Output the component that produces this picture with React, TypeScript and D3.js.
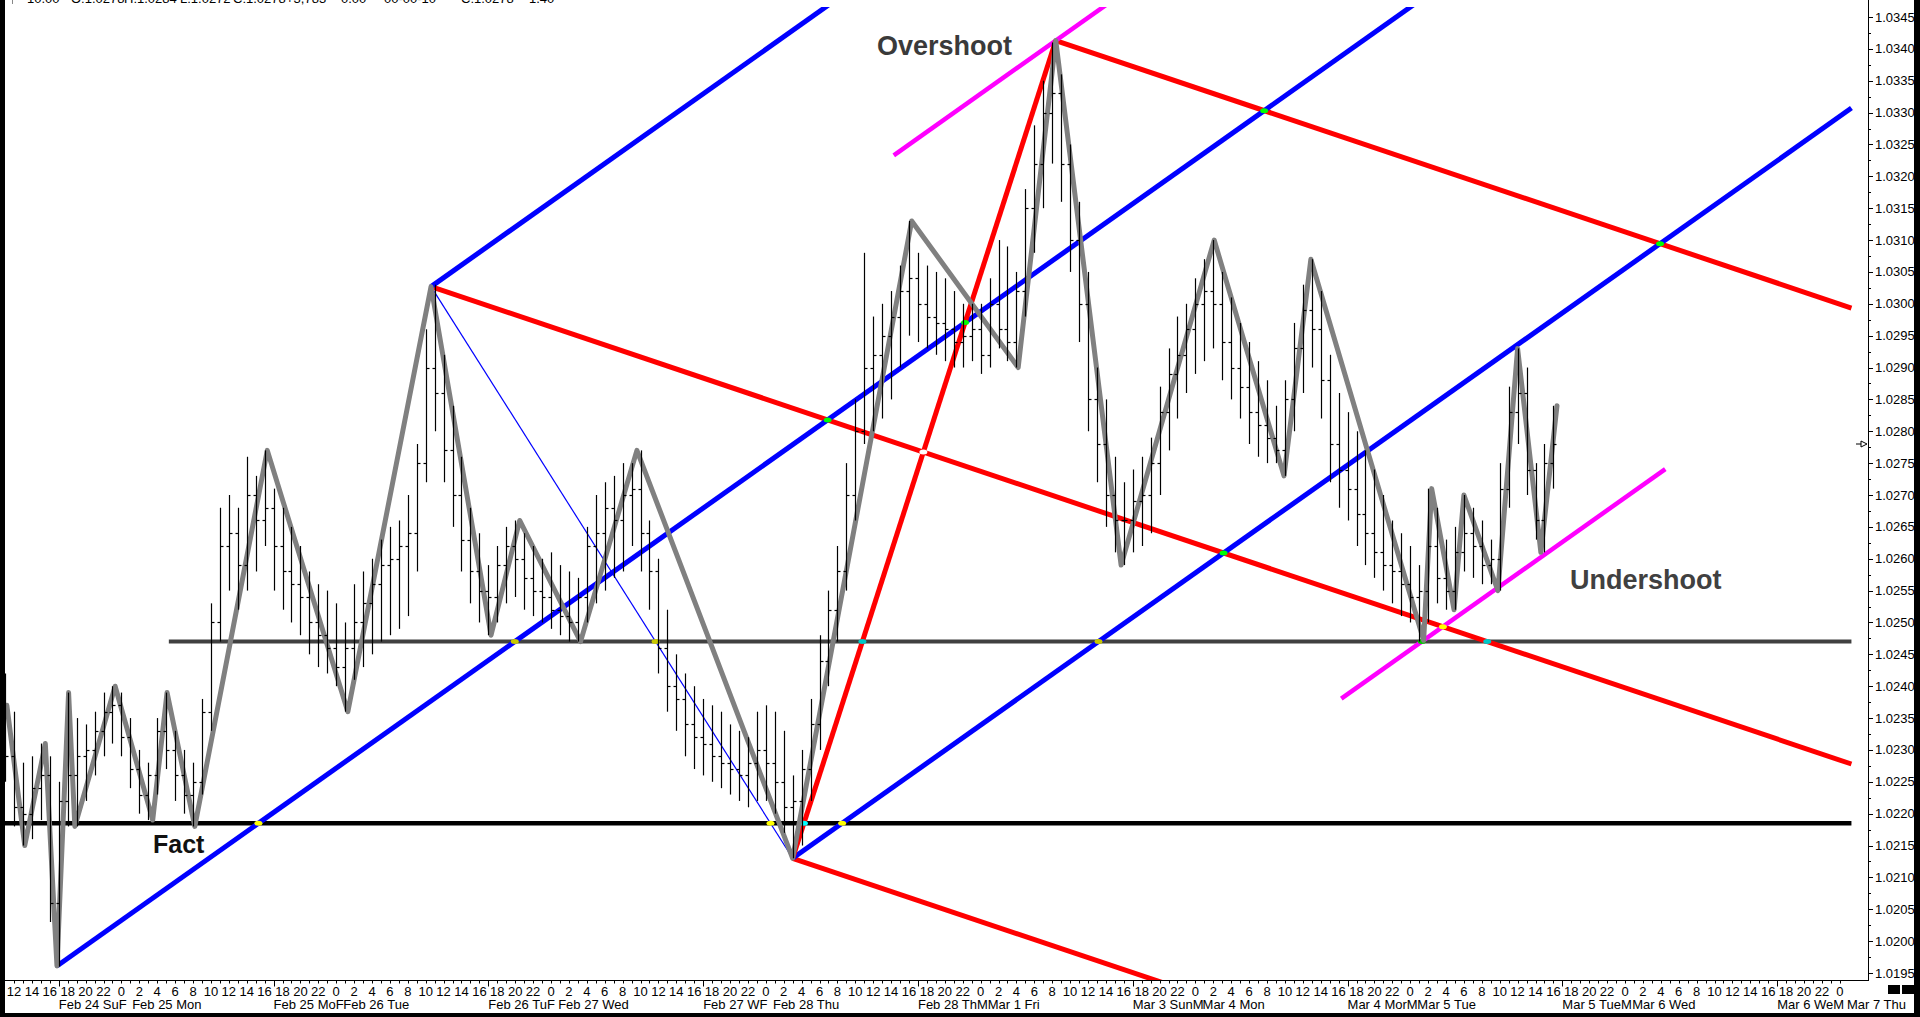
import * as d3 from 'd3'

// hour index: 0 = Feb 22 12:00, weekend hours removed (Fri 17:00 -> Sun 17:00)
const barHigh = [
  1.0242, 1.0236, 1.0228, 1.0229, 1.0231, 1.0229, 1.0225, 1.0239, 1.0235, 1.0234,
  1.0236, 1.0239, 1.0240, 1.0239, 1.0235, 1.0230, 1.0228, 1.0235, 1.0239, 1.0233,
  1.0230, 1.0228, 1.0238, 1.0253, 1.0268, 1.0270, 1.0268, 1.0276, 1.0273, 1.0277,
  1.0271, 1.0268, 1.0265, 1.0262, 1.0258, 1.0256, 1.0255, 1.0253, 1.0250, 1.0256,
  1.0258, 1.0260, 1.0263, 1.0265, 1.0266, 1.0270, 1.0278, 1.0296, 1.0303, 1.0292,
  1.0284, 1.0276, 1.0268, 1.0264, 1.0259, 1.0262, 1.0265, 1.0266, 1.0264, 1.0262,
  1.0260, 1.0261, 1.0259, 1.0258, 1.0257, 1.0265, 1.0270, 1.0272, 1.0273, 1.0275,
  1.0275, 1.0277, 1.0266, 1.0260, 1.0252, 1.0245, 1.0242, 1.0240, 1.0238, 1.0237,
  1.0236, 1.0234, 1.0233, 1.0232, 1.0236, 1.0237, 1.0236, 1.0233, 1.0226, 1.0230,
  1.0238, 1.0248, 1.0255, 1.0262, 1.0275, 1.0285, 1.0308, 1.0298, 1.0300, 1.0302,
  1.0306, 1.0313, 1.0308, 1.0306, 1.0305, 1.0304, 1.0302, 1.0300, 1.0300, 1.0300,
  1.0304, 1.0310, 1.0309, 1.0305, 1.0318, 1.0328, 1.0335, 1.0341, 1.0336, 1.0325,
  1.0316, 1.0305, 1.0290, 1.0285, 1.0276, 1.0272, 1.0274, 1.0276, 1.0279, 1.0287,
  1.0293, 1.0298, 1.0300, 1.0304, 1.0307, 1.0310, 1.0305, 1.0301, 1.0297, 1.0294,
  1.0291, 1.0288, 1.0284, 1.0288, 1.0297, 1.0303, 1.0307, 1.0302, 1.0292, 1.0286,
  1.0283, 1.0280, 1.0277, 1.0274, 1.0270, 1.0266, 1.0264, 1.0262, 1.0259, 1.0271,
  1.0268, 1.0263, 1.0265, 1.0270, 1.0268, 1.0266, 1.0263, 1.0275, 1.0287, 1.0293,
  1.0290, 1.0275, 1.0278, 1.0284,
]
const barLow = [
  1.0225, 1.0218, 1.0215, 1.0216, 1.0219, 1.0203, 1.0196, 1.0218, 1.0218, 1.0222,
  1.0226, 1.0229, 1.0231, 1.0229, 1.0224, 1.0220, 1.0219, 1.0223, 1.0227, 1.0222,
  1.0220, 1.0218, 1.0223, 1.0233, 1.0247, 1.0255, 1.0252, 1.0255, 1.0258, 1.0262,
  1.0255, 1.0252, 1.0250, 1.0248, 1.0245, 1.0243, 1.0242, 1.0240, 1.0236, 1.0241,
  1.0243, 1.0245, 1.0247, 1.0248, 1.0249, 1.0251, 1.0258, 1.0272, 1.0280, 1.0272,
  1.0265, 1.0258, 1.0253, 1.0250, 1.0248, 1.0250, 1.0253, 1.0254, 1.0252, 1.0251,
  1.0250, 1.0249, 1.0248, 1.0247, 1.0247, 1.0250, 1.0253, 1.0255, 1.0257, 1.0258,
  1.0262, 1.0258, 1.0252, 1.0242, 1.0236, 1.0233, 1.0229, 1.0227, 1.0226, 1.0225,
  1.0224, 1.0223, 1.0222, 1.0221, 1.0222, 1.0222, 1.0220, 1.0217, 1.0213, 1.0215,
  1.0222, 1.0230, 1.0240, 1.0247, 1.0255, 1.0266, 1.0278, 1.0280, 1.0282, 1.0285,
  1.0290, 1.0295, 1.0294, 1.0293, 1.0292, 1.0291, 1.0290, 1.0290, 1.0291, 1.0289,
  1.0290, 1.0293, 1.0291, 1.0290, 1.0298, 1.0308, 1.0315, 1.0322, 1.0316, 1.0305,
  1.0294, 1.0280, 1.0272, 1.0265, 1.0261, 1.0259, 1.0261, 1.0262, 1.0264, 1.0270,
  1.0277, 1.0282, 1.0286, 1.0289, 1.0291, 1.0293, 1.0288, 1.0285, 1.0282, 1.0278,
  1.0276, 1.0275, 1.0275, 1.0273, 1.0280, 1.0286, 1.0290, 1.0282, 1.0272, 1.0268,
  1.0266, 1.0262, 1.0259, 1.0257, 1.0255, 1.0253, 1.0251, 1.0250, 1.0247, 1.0250,
  1.0253, 1.0252, 1.0252, 1.0258, 1.0257, 1.0256, 1.0256, 1.0255, 1.0268, 1.0278,
  1.0270, 1.0263, 1.0261, 1.0271,
]
const barClose = [
  1.0229, 1.0221, 1.0220, 1.0224, 1.0226, 1.0206, 1.0222, 1.0226, 1.0229, 1.0230,
  1.0233, 1.0236, 1.0237, 1.0232, 1.0227, 1.0223, 1.0226, 1.0233, 1.0230, 1.0226,
  1.0223, 1.0225, 1.0236, 1.0250, 1.0262, 1.0264, 1.0259, 1.0270, 1.0266, 1.0268,
  1.0262, 1.0258, 1.0256, 1.0254, 1.0250, 1.0248, 1.0246, 1.0243, 1.0246, 1.0250,
  1.0253, 1.0256, 1.0259, 1.0260, 1.0262, 1.0264, 1.0275, 1.0290, 1.0286, 1.0277,
  1.0270, 1.0263, 1.0258, 1.0255, 1.0254, 1.0259, 1.0262, 1.0260, 1.0257, 1.0255,
  1.0254, 1.0252, 1.0251, 1.0250, 1.0254, 1.0262, 1.0264, 1.0268, 1.0266, 1.0270,
  1.0271, 1.0264, 1.0258, 1.0246, 1.0240, 1.0238, 1.0234, 1.0232, 1.0231, 1.0229,
  1.0228, 1.0227, 1.0226, 1.0228, 1.0230, 1.0228, 1.0225, 1.0221, 1.0222, 1.0227,
  1.0234, 1.0244, 1.0252, 1.0258, 1.0270, 1.0280, 1.0290, 1.0292, 1.0295, 1.0298,
  1.0302, 1.0304, 1.0300, 1.0298, 1.0297, 1.0296, 1.0294, 1.0295, 1.0296, 1.0292,
  1.0300, 1.0296, 1.0294, 1.0302, 1.0315, 1.0322, 1.0330, 1.0333, 1.0322, 1.0310,
  1.0300, 1.0285, 1.0278, 1.0270, 1.0266, 1.0266, 1.0269, 1.0270, 1.0275, 1.0283,
  1.0289, 1.0292, 1.0296, 1.0300, 1.0302, 1.0300, 1.0294, 1.0290, 1.0287, 1.0283,
  1.0281, 1.0279, 1.0277, 1.0285, 1.0293, 1.0299, 1.0296, 1.0288, 1.0278, 1.0274,
  1.0271, 1.0267, 1.0264, 1.0261, 1.0259, 1.0258, 1.0256, 1.0254, 1.0255, 1.0262,
  1.0257, 1.0255, 1.0261, 1.0264, 1.0262, 1.0259, 1.0260, 1.0271, 1.0283, 1.0286,
  1.0274, 1.0266, 1.0275, 1.0278,
]
const firstBarHour = -1

// grey zigzag swing points
const zigHour = [
  -0.8, 1.2, 3.5, 4.8, 6.1, 6.8, 11.3, 15.5, 17.1, 20.2, 28.3, 37.3, 46.6, 53.3, 56.5, 63.3,
  69.6, 87.0, 100.3, 112.2, 116.4, 123.7, 134.1, 141.9, 144.9, 157.5, 158.4, 160.9, 162.0,
  165.8, 168.0, 170.6, 172.4,
]
const zigPrice = [
  1.0237, 1.0215, 1.0231, 1.01961, 1.0239, 1.0218, 1.0240, 1.0219, 1.0239, 1.0218, 1.0277,
  1.0236, 1.03027, 1.0248, 1.0266, 1.0247, 1.0277, 1.0213, 1.0313, 1.0290, 1.03413, 1.0259,
  1.0310, 1.0273, 1.0307, 1.02472, 1.0271, 1.0252, 1.0270, 1.0255, 1.0293, 1.0261, 1.0284,
]

const factLevel = 1.02185
const pivotLevel = 1.0247
const upSlope = 0.0000995 // price per hour
const downSlope = -0.0000472
const lastHour = 205.3

const headerTexts = ['10.00', 'O:1.0278', 'H:1.0284', 'L:1.0272', 'C:1.0278', '+3,783', '0.00', '00-00-10', 'C:1.0278', '1.40']
const headerX = [27, 71, 124, 180, 233, 286, 341, 384, 461, 529]

const priceTicks = d3.range(0, 31).map(i => +(1.0195 + i * 0.0005).toFixed(4))
const hourTicks = d3.range(0, 205)

const sessionStart = [5, 29, 53, 77, 101, 125, 149, 173, 197]
const dateA = ['Feb 24 Su', 'Feb 25 Mo', 'Feb 26 Tu', 'Feb 27 W', 'Feb 28 Th', 'Mar 3 Sun', 'Mar 4 Mor', 'Mar 5 Tue', 'Mar 6 We']
const dateB = ['F', 'F', 'F', 'F', 'M', 'M', 'M', 'M', 'M']
const dateC = ['Feb 25 Mon', 'Feb 26 Tue', 'Feb 27 Wed', 'Feb 28 Thu', 'Mar 1 Fri', 'Mar 4 Mon', 'Mar 5 Tue', 'Mar 6 Wed', 'Mar 7 Thu']

const FONT = "'Liberation Sans', Arial, sans-serif"
const NARROW = "'Liberation Sans Narrow', 'Arial Narrow', 'Liberation Sans', Arial, sans-serif"

type Seg = { h1: number; p1: number; h2: number; p2: number }

export default function App() {
  const x = d3.scaleLinear().domain([0, 204]).range([14, 14 + 8.95 * 204])
  const y = d3.scaleLinear().domain([1.0195, 1.0345]).range([973, 17])

  const plot = { left: 5, top: 7, right: 1868, bottom: 980 }

  const ray = (i: number, slope: number, h2 = lastHour): Seg => ({
    h1: zigHour[i], p1: zigPrice[i], h2, p2: zigPrice[i] + (h2 - zigHour[i]) * slope,
  })
  const span = (i: number, slope: number, h1: number, h2: number): Seg => ({
    h1, p1: zigPrice[i] + (h1 - zigHour[i]) * slope, h2, p2: zigPrice[i] + (h2 - zigHour[i]) * slope,
  })
  const link = (i: number, j: number): Seg => ({ h1: zigHour[i], p1: zigPrice[i], h2: zigHour[j], p2: zigPrice[j] })

  const lines: Record<string, Seg> = {
    fact: { h1: -1.2, p1: factLevel, h2: lastHour, p2: factLevel },
    pivot: { h1: 17.3, p1: pivotLevel, h2: lastHour, p2: pivotLevel },
    blueB: ray(3, upSlope),
    blueA: ray(12, upSlope),
    blueC: ray(17, upSlope),
    redM: ray(12, downSlope),
    redU: ray(20, downSlope),
    redL: ray(17, downSlope),
    steep: link(17, 20),
    thin: link(12, 17),
    magU: span(20, upSlope, 98.3, 125),
    magL: span(25, upSlope, 148.3, 184.5),
  }

  const styles: [string, string, number][] = [
    ['fact', '#000000', 4.5],
    ['pivot', '#404040', 4],
    ['thin', '#0000ff', 1.2],
    ['redM', '#ff0000', 5],
    ['redU', '#ff0000', 5],
    ['redL', '#ff0000', 5],
    ['blueB', '#0000ff', 5],
    ['blueA', '#0000ff', 5],
    ['blueC', '#0000ff', 5],
    ['magU', '#ff00ff', 4.5],
    ['magL', '#ff00ff', 4.5],
    ['steep', '#ff0000', 5],
  ]

  const markers: [string, string, string][] = [
    ['fact', 'blueB', '#ffff00'], ['fact', 'blueC', '#ffff00'], ['fact', 'thin', '#ffff00'],
    ['fact', 'steep', '#00ffff'], ['pivot', 'blueB', '#c8c800'], ['pivot', 'thin', '#c8c800'],
    ['pivot', 'steep', '#00c8c8'], ['pivot', 'blueC', '#c8c800'], ['pivot', 'magL', '#00c800'],
    ['pivot', 'redM', '#00c8c8'], ['redM', 'blueB', '#00ff00'], ['redM', 'steep', '#ffffff'],
    ['redM', 'blueC', '#00ff00'], ['redM', 'magL', '#ffff00'], ['blueB', 'steep', '#00ff00'],
    ['redU', 'blueB', '#00ff00'], ['redU', 'blueC', '#00ff00'],
  ]

  const px = (s: Seg) => [x(s.h1), y(s.p1), x(s.h2), y(s.p2)]
  const cross = (a: Seg, b: Seg) => {
    const [x1, y1, x2, y2] = px(a)
    const [x3, y3, x4, y4] = px(b)
    const d = (x1 - x2) * (y3 - y4) - (y1 - y2) * (x3 - x4)
    if (Math.abs(d) < 1e-9) return null
    const t = ((x1 - x3) * (y3 - y4) - (y1 - y3) * (x3 - x4)) / d
    const u = ((x1 - x3) * (y1 - y2) - (y1 - y3) * (x1 - x2)) / d
    if (t < 0 || t > 1 || u < 0 || u > 1) return null
    return [x1 + t * (x2 - x1), y1 + t * (y2 - y1)]
  }

  const zig = d3.line<number>().x(i => x(zigHour[i])).y(i => y(zigPrice[i]))(d3.range(zigHour.length))

  const bars = barHigh.map((hi, i) => {
    const h = firstBarHour + i
    const bx = Math.round(x(h)) + 0.5
    const open = i > 0 ? barClose[i - 1] : barClose[i]
    return { bx, yh: y(hi), yl: y(barLow[i]), yc: Math.round(y(barClose[i])) + 0.5, yo: Math.round(y(open)) + 0.5 }
  })

  const axisX = 1868
  const axisY = 980.5
  const lastClose = barClose[barClose.length - 1]

  return (
    <svg width={1920} height={1017} style={{ position: 'absolute', left: 0, top: 0, display: 'block', background: '#fff' }}>
      <defs>
        <clipPath id="plot">
          <rect x={plot.left} y={plot.top} width={plot.right - plot.left} height={plot.bottom - plot.top} />
        </clipPath>
      </defs>
      <rect x={0} y={0} width={1920} height={1017} fill="#fff" />

      {/* header row, mostly cut off at the top edge */}
      <line x1={12.5} y1={0} x2={12.5} y2={4} stroke="#888" />
      {headerTexts.map((t, i) => (
        <text key={i} x={headerX[i]} y={3} fontFamily={FONT} fontSize={13} fill="#000">{t}</text>
      ))}

      <g clipPath="url(#plot)">
        {styles.map(([k, c, w]) => {
          const [x1, y1, x2, y2] = px(lines[k])
          return <line key={k} x1={x1} y1={y1} x2={x2} y2={y2} stroke={c} strokeWidth={w} strokeLinecap="butt" />
        })}
        {markers.map(([a, b, c], i) => {
          const p = cross(lines[a], lines[b])
          if (!p) return null
          return <ellipse key={i} cx={p[0]} cy={p[1]} rx={4} ry={2.5} fill={c} />
        })}

        <path d={zig ?? ''} fill="none" stroke="#808080" strokeWidth={5} strokeLinejoin="round" strokeLinecap="round" />

        {bars.map((b, i) => (
          <g key={i} stroke="#000" strokeWidth={1.2}>
            <line x1={b.bx} y1={b.yh} x2={b.bx} y2={b.yl} />
            <line x1={b.bx - 3} y1={b.yo} x2={b.bx} y2={b.yo} />
            <line x1={b.bx} y1={b.yc} x2={b.bx + 3} y2={b.yc} />
          </g>
        ))}
      </g>

      <text x={153} y={853} fontFamily={FONT} fontWeight="bold" fontSize={25} fill="#111">Fact</text>
      <text x={877} y={55} fontFamily={FONT} fontWeight="bold" fontSize={27} fill="#3a3a3a">Overshoot</text>
      <text x={1570} y={589} fontFamily={FONT} fontWeight="bold" fontSize={27} fill="#404040">Undershoot</text>

      {/* right price axis */}
      <line x1={axisX + 0.5} y1={0} x2={axisX + 0.5} y2={axisY} stroke="#000" />
      {priceTicks.map(p => (
        <g key={p}>
          <line x1={axisX} y1={Math.round(y(p)) + 0.5} x2={axisX + 5} y2={Math.round(y(p)) + 0.5} stroke="#000" />
          <text x={axisX + 7} y={y(p) + 4.5} fontFamily={FONT} fontSize={13} fill="#000">{p.toFixed(4)}</text>
        </g>
      ))}
      {priceTicks.slice(0, -1).map(p => (
        <line key={'m' + p} x1={axisX} y1={Math.round(y(p + 0.00025)) + 0.5} x2={axisX + 3} y2={Math.round(y(p + 0.00025)) + 0.5} stroke="#000" />
      ))}
      <path d={`M${axisX - 12},${y(lastClose)} h5 M${axisX - 7},${y(lastClose) - 3} l6,3 l-6,3 z`} fill="#fff" stroke="#000" />

      {/* bottom time axis */}
      <line x1={plot.left} y1={axisY} x2={axisX + 1} y2={axisY} stroke="#000" />
      {hourTicks.map(h => (
        <line key={h} x1={Math.round(x(h)) + 0.5} y1={axisY} x2={Math.round(x(h)) + 0.5}
          y2={axisY + (sessionStart.includes(h) ? 6 : 3)} stroke="#000" />
      ))}
      {hourTicks.filter(h => h % 2 === 0).map(h => (
        <text key={'t' + h} x={x(h)} y={996} textAnchor="middle" fontFamily={NARROW} fontSize={13} fill="#000">
          {(h + 12) % 24}
        </text>
      ))}
      {sessionStart.map((s, i) => (
        <text key={'d' + i} x={x(s)} y={1009} fontFamily={NARROW} fontSize={13} fill="#000">
          {dateA[i]}
          <tspan>{dateB[i]}</tspan>
          <tspan x={x(s + (i === 0 ? 8.2 : 7.8))}>{dateC[i]}</tspan>
        </text>
      ))}

      {/* frame */}
      <rect x={0} y={0} width={5} height={1017} fill="#000" />
      <rect x={1914} y={0} width={6} height={1017} fill="#000" />
      <rect x={0} y={1013} width={1920} height={4} fill="#000" />
      <rect x={1888} y={985} width={12} height={9} fill="#000" />
      <rect x={1902} y={985} width={12} height={9} fill="#000" />
    </svg>
  )
}
